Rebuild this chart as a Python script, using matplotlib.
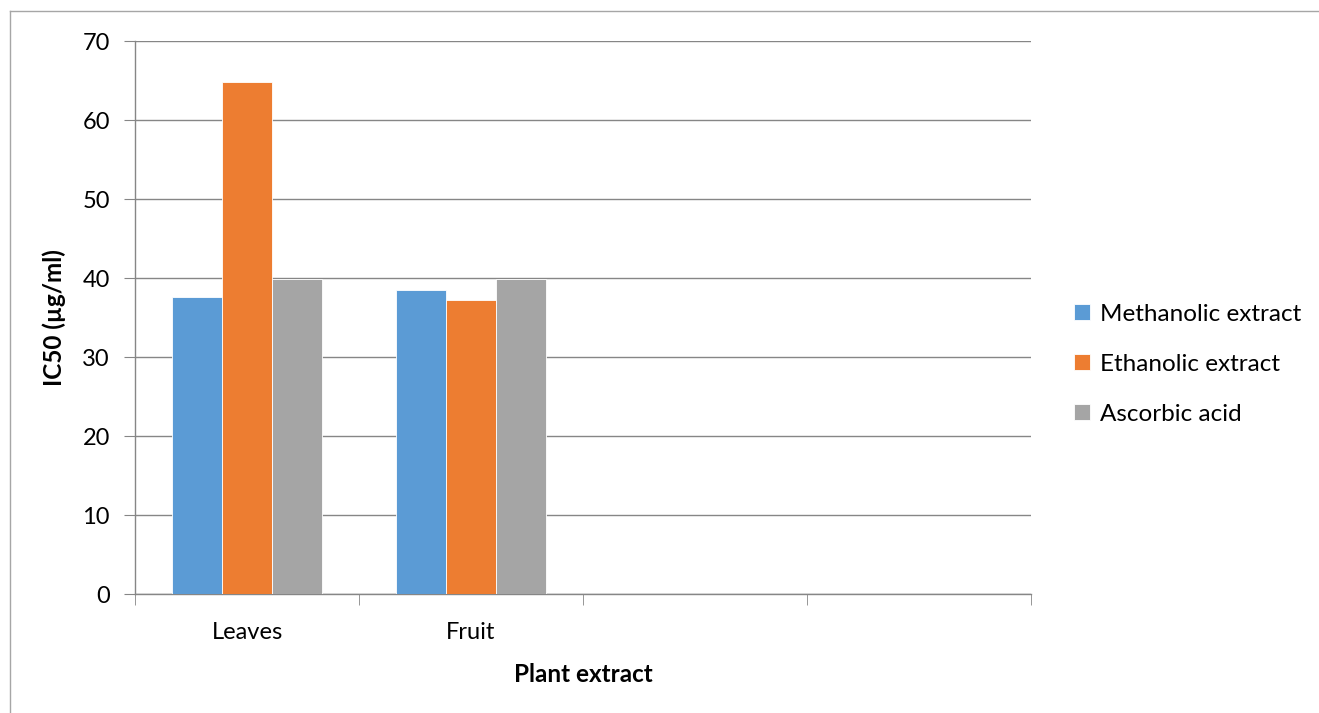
import matplotlib.pyplot as plt
import numpy as np
from matplotlib.lines import Line2D

# IC50 values per plant part
categories = ['Leaves', 'Fruit', '', '']
series_names = ['Methanolic extract', 'Ethanolic extract', 'Ascorbic acid']
methanolic = [37.6, 38.5]
ethanolic = [64.9, 37.2]
ascorbic = [39.9, 39.9]
colors = ['#5B9BD5', '#ED7D31', '#A5A5A5']

plt.rcParams['font.family'] = ['Lato', 'DejaVu Sans']

fig = plt.figure(figsize=(13.19, 7.13), dpi=100)
ax = fig.add_axes([135 / 1319, 1 - 594.3 / 713, 896 / 1319, 553 / 713])

n = len(series_names)
width = 1 / (n + 1.5)
x = np.arange(len(methanolic))
for i, (vals, name) in enumerate(zip([methanolic, ethanolic, ascorbic], series_names)):
    ax.bar(x + (i - 1) * width, vals, width, color=colors[i], label=name,
           edgecolor='white', linewidth=0.6, zorder=3)

ax.set_xlim(-0.5, len(categories) - 0.5)
ax.set_ylim(0, 70)
ax.set_yticks(range(0, 71, 10))
ax.set_xticks(np.arange(len(categories)))
ax.set_xticklabels(categories, fontsize=17)
ax.set_xticks(np.arange(len(categories) + 1) - 0.5, minor=True)
ax.tick_params(axis='x', which='major', length=0, pad=20)
ax.tick_params(axis='x', which='minor', length=8, color='#868686', direction='out')
ax.tick_params(axis='y', length=8, color='#868686', labelsize=17, pad=10)

ax.grid(axis='y', color='#868686', linewidth=1, zorder=0)
for s in ['top', 'right']:
    ax.spines[s].set_visible(False)
for s in ['left', 'bottom']:
    ax.spines[s].set_color('#868686')
    ax.spines[s].set_linewidth(1)

ax.set_ylabel('IC50 (µg/ml)', fontsize=17.5, fontweight='bold', labelpad=12)
ax.set_xlabel('Plant extract', fontsize=17.5, fontweight='bold', labelpad=14)

ax.legend(loc='center left', bbox_to_anchor=(1.024, 0.416), frameon=False,
          fontsize=17.5, handlelength=0.65, handleheight=0.65, handletextpad=0.4,
          labelspacing=1.2)

# chart area border
fig.add_artist(Line2D([9.5 / 1319, 9.5 / 1319], [0, 1 - 11 / 713], color='#A6A6A6', lw=1))
fig.add_artist(Line2D([9.5 / 1319, 1], [1 - 11 / 713, 1 - 11 / 713], color='#A6A6A6', lw=1))

fig.savefig('out.png', dpi=100)
